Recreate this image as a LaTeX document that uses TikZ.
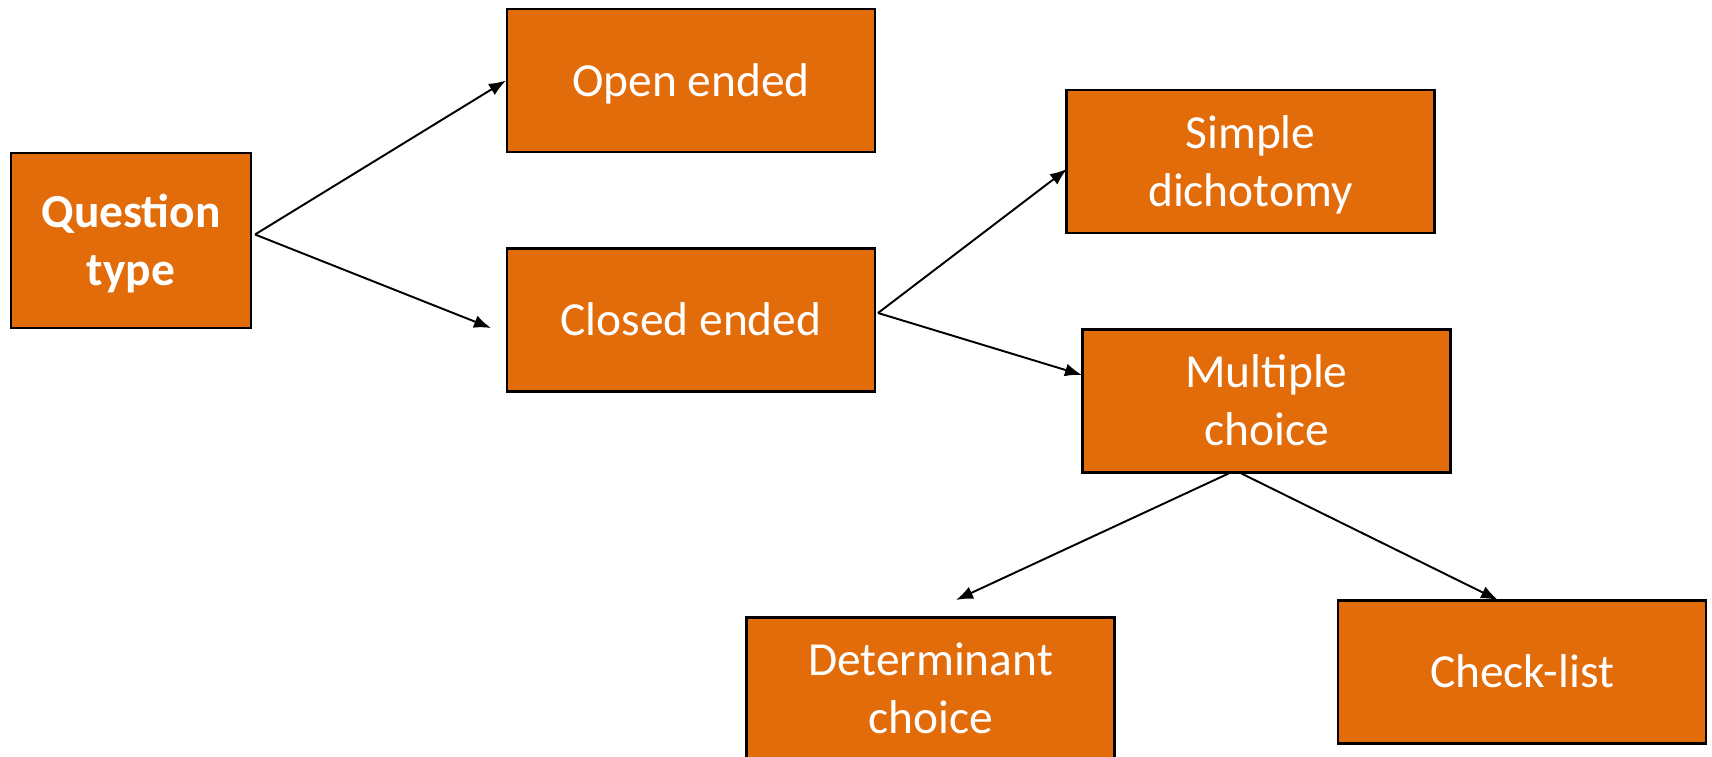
\documentclass[tikz,border=0pt]{standalone}
\usepackage{fontspec}
\setmainfont{Carlito}
\usetikzlibrary{arrows.meta}
\definecolor{boxorange}{HTML}{E36C0A}
\newcommand{\topstrut}{\rule{0pt}{26pt}}
\newcommand{\botstrut}{\rule[-8pt]{0pt}{8pt}}
\tikzset{
    qbox/.style={rectangle, draw=black, line width=1.2pt, fill=boxorange, text=white,
        minimum width=7.36cm, minimum height=2.86cm, align=center,
        font=\fontsize{27}{33}\selectfont, inner sep=0pt}
}

\begin{document}
\begin{tikzpicture}[x=0.02cm, y=-0.02cm, >={Latex[length=3.4mm, width=2.6mm]}, line width=1.1pt]
    \useasboundingbox (0,0) rectangle (1712,757);

    % Nodes
    \node[qbox, minimum width=4.8cm, minimum height=3.5cm, font=\fontsize{27}{33}\selectfont\bfseries]
        (question) at (131,240.5) {\topstrut Question\\ type\botstrut};
    \node[qbox](open) at (691,80.5) {\topstrut Open ended\botstrut};
    \node[qbox](closed) at (691,320) {\topstrut Closed ended\botstrut};
    \node[qbox](simple) at (1250.5,161.5) {\topstrut Simple\\ dichotomy\botstrut};
    \node[qbox](multiple) at (1266.5,401) {\topstrut Multiple\\ choice\botstrut};
    \node[qbox](determinant) at (930.5,689) {\topstrut Determinant\\ choice\botstrut};
    \node[qbox](checklist) at (1522,672) {\topstrut Check-list\botstrut};

    % Arrow tips
    \coordinate (closedtip) at (491,328);
    \coordinate (simpletip) at (1067,169);
    \coordinate (multitip) at (1082,375);
    \coordinate (determtip) at (956,600);
    \coordinate (checktip) at (1498,600);

    % Arrows
    \draw[->] ([shift={(3,-6)}]question.east) -- (open.west);
    \draw[->] ([shift={(3,-6)}]question.east) -- (closedtip);
    \draw[->] ([shift={(2,-7)}]closed.east) -- (simpletip);
    \draw[->] ([shift={(2,-7)}]closed.east) -- (multitip);
    \draw[->] ([xshift=-0.76cm]multiple.south) -- (determtip);
    \draw[->] ([xshift=-0.5cm]multiple.south) -- (checktip);

\end{tikzpicture}
\end{document}
